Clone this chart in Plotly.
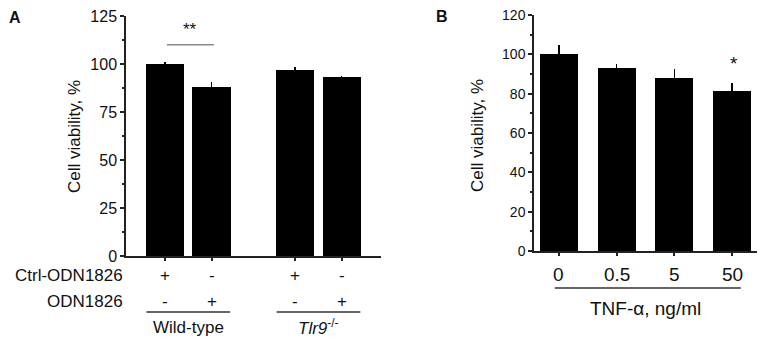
import plotly.graph_objects as go

# ---------------- data ----------------
a_groups = ["Wild-type", "Tlr9<sup>-/-</sup>"]
a_ctrl = ["+", "-", "+", "-"]
a_odn = ["-", "+", "-", "+"]
a_values = [100, 88, 97, 93]
a_errors = [1.2, 2.5, 1.5, 0.8]

b_categories = ["0", "0.5", "5", "50"]
b_values = [100, 93, 88, 81.5]
b_errors = [5, 2, 4.5, 3.8]

a_yticks = [0, 25, 50, 75, 100, 125]
b_yticks = [0, 20, 40, 60, 80, 100, 120]

# ---------------- layout helpers ----------------
# the page body has an 8px margin, so the figure is drawn 8px in from the corner
OFF = 8
W, H = 765 - 2 * OFF, 347 - 2 * OFF
FONT = "Liberation Sans, Arial, sans-serif"


def px(x):
    return (x - OFF) / W


def py(y):
    return 1 - (y - OFF) / H


GAP = 2.8
a_x = [g * GAP + i for g in range(2) for i in range(2)]
b_x = list(range(len(b_categories)))

fig = go.Figure()

fig.add_trace(go.Bar(
    x=a_x, y=a_values, width=0.82,
    marker=dict(color="black", line=dict(width=0)),
    error_y=dict(type="data", symmetric=False, array=a_errors,
                 arrayminus=[0] * 4, color="black", thickness=1.5, width=0),
    xaxis="x", yaxis="y", showlegend=False,
))
fig.add_trace(go.Bar(
    x=b_x, y=b_values, width=0.66,
    marker=dict(color="black", line=dict(width=0)),
    error_y=dict(type="data", symmetric=False, array=b_errors,
                 arrayminus=[0] * 4, color="black", thickness=1.5, width=0),
    xaxis="x2", yaxis="y2", showlegend=False,
))

axis_common = dict(showline=True, linecolor="#222", linewidth=1.5,
                   showgrid=False, zeroline=False, ticks="outside",
                   tickcolor="#222", tickwidth=1.5, automargin=False)

fig.update_layout(
    width=W, height=H,
    margin=dict(l=0, r=0, t=0, b=0, pad=0, autoexpand=False),
    paper_bgcolor="white", plot_bgcolor="white",
    font=dict(family=FONT, color="#111"),
    bargap=0,
    xaxis=dict(domain=[px(126), px(381)], range=[-0.84, 4.645],
               tickvals=a_x, showticklabels=False, ticklen=3,
               anchor="y", **axis_common),
    yaxis=dict(domain=[py(256), py(16)], range=[0, 125],
               tickvals=a_yticks, ticklen=4, ticklabeloverflow="allow",
               tickfont=dict(size=16, family=FONT, color="#111"),
               minor=dict(tickvals=[12.5, 37.5, 62.5, 87.5, 112.5], ticklen=2,
                          tickcolor="#222", tickwidth=1.5, ticks="outside"),
               anchor="x", **axis_common),
    xaxis2=dict(domain=[px(534), px(757)], range=[-0.43, 3.43],
                tickvals=b_x, showticklabels=False, ticklen=3,
                anchor="y2", **axis_common),
    yaxis2=dict(domain=[py(251), py(15)], range=[0, 120],
                tickvals=b_yticks, ticklen=4, ticklabeloverflow="allow",
                tickfont=dict(size=14, family=FONT, color="#111"),
                minor=dict(tickvals=[10, 30, 50, 70, 90, 110], ticklen=2,
                           tickcolor="#222", tickwidth=1.5, ticks="outside"),
                anchor="x2", **axis_common),
)

ann = []
shapes = []


def text(t, x, y, xref="paper", yref="paper", size=17, xanchor="center",
         yanchor="middle", **kw):
    ann.append(dict(text=t, x=x, y=y, xref=xref, yref=yref, xanchor=xanchor,
                    yanchor=yanchor, showarrow=False,
                    font=dict(size=size, family=FONT, color="#111"), **kw))


# panel letters
text("<b>A</b>", px(15), py(18), size=16)
text("<b>B</b>", px(442), py(17), size=16)

# y titles
text("Cell viability, %", px(74), py(137), size=17, textangle=-90)
text("Cell viability, %", px(477), py(135), size=17, textangle=-90)

# Panel A row labels
text("Ctrl-ODN1826", px(125), py(275), xanchor="right")
text("ODN1826", px(125), py(301), xanchor="right")
for xv, c, o in zip(a_x, a_ctrl, a_odn):
    text(c, xv, py(275), xref="x")
    text(o, xv, py(301), xref="x")

# group underlines + names
for g, name in enumerate(a_groups):
    x0 = g * GAP - 0.4
    x1 = g * GAP + 1.4
    shapes.append(dict(type="line", xref="x", yref="paper", x0=x0, x1=x1,
                       y0=py(312), y1=py(312), line=dict(color="#333", width=1.5)))
    label = name if g == 0 else "<i>Tlr9</i><sup>-/-</sup>"
    text(label, g * GAP + 0.5, py(327), xref="x")

# significance in A
shapes.append(dict(type="line", xref="x", yref="y", x0=0.04, x1=1.05, y0=110, y1=110,
                   line=dict(color="#888", width=1.5)))
text("**", 0.54, 112, xref="x", yref="y", yanchor="bottom")

# Panel B tick labels and title
for xv, c in zip(b_x, b_categories):
    text(c, xv, py(274), xref="x2", size=19)
shapes.append(dict(type="line", xref="x2", yref="paper", x0=-0.07, x1=3.15,
                   y0=py(288), y1=py(288), line=dict(color="#333", width=1.5)))
text("TNF-α, ng/ml", 1.5, py(308), xref="x2", size=19)
text("*", 3.03, b_values[3] + b_errors[3] + 3.5, xref="x2", yref="y2",
     yanchor="bottom", size=19)

fig.update_layout(annotations=ann, shapes=shapes)
fig.write_html("out.html")
